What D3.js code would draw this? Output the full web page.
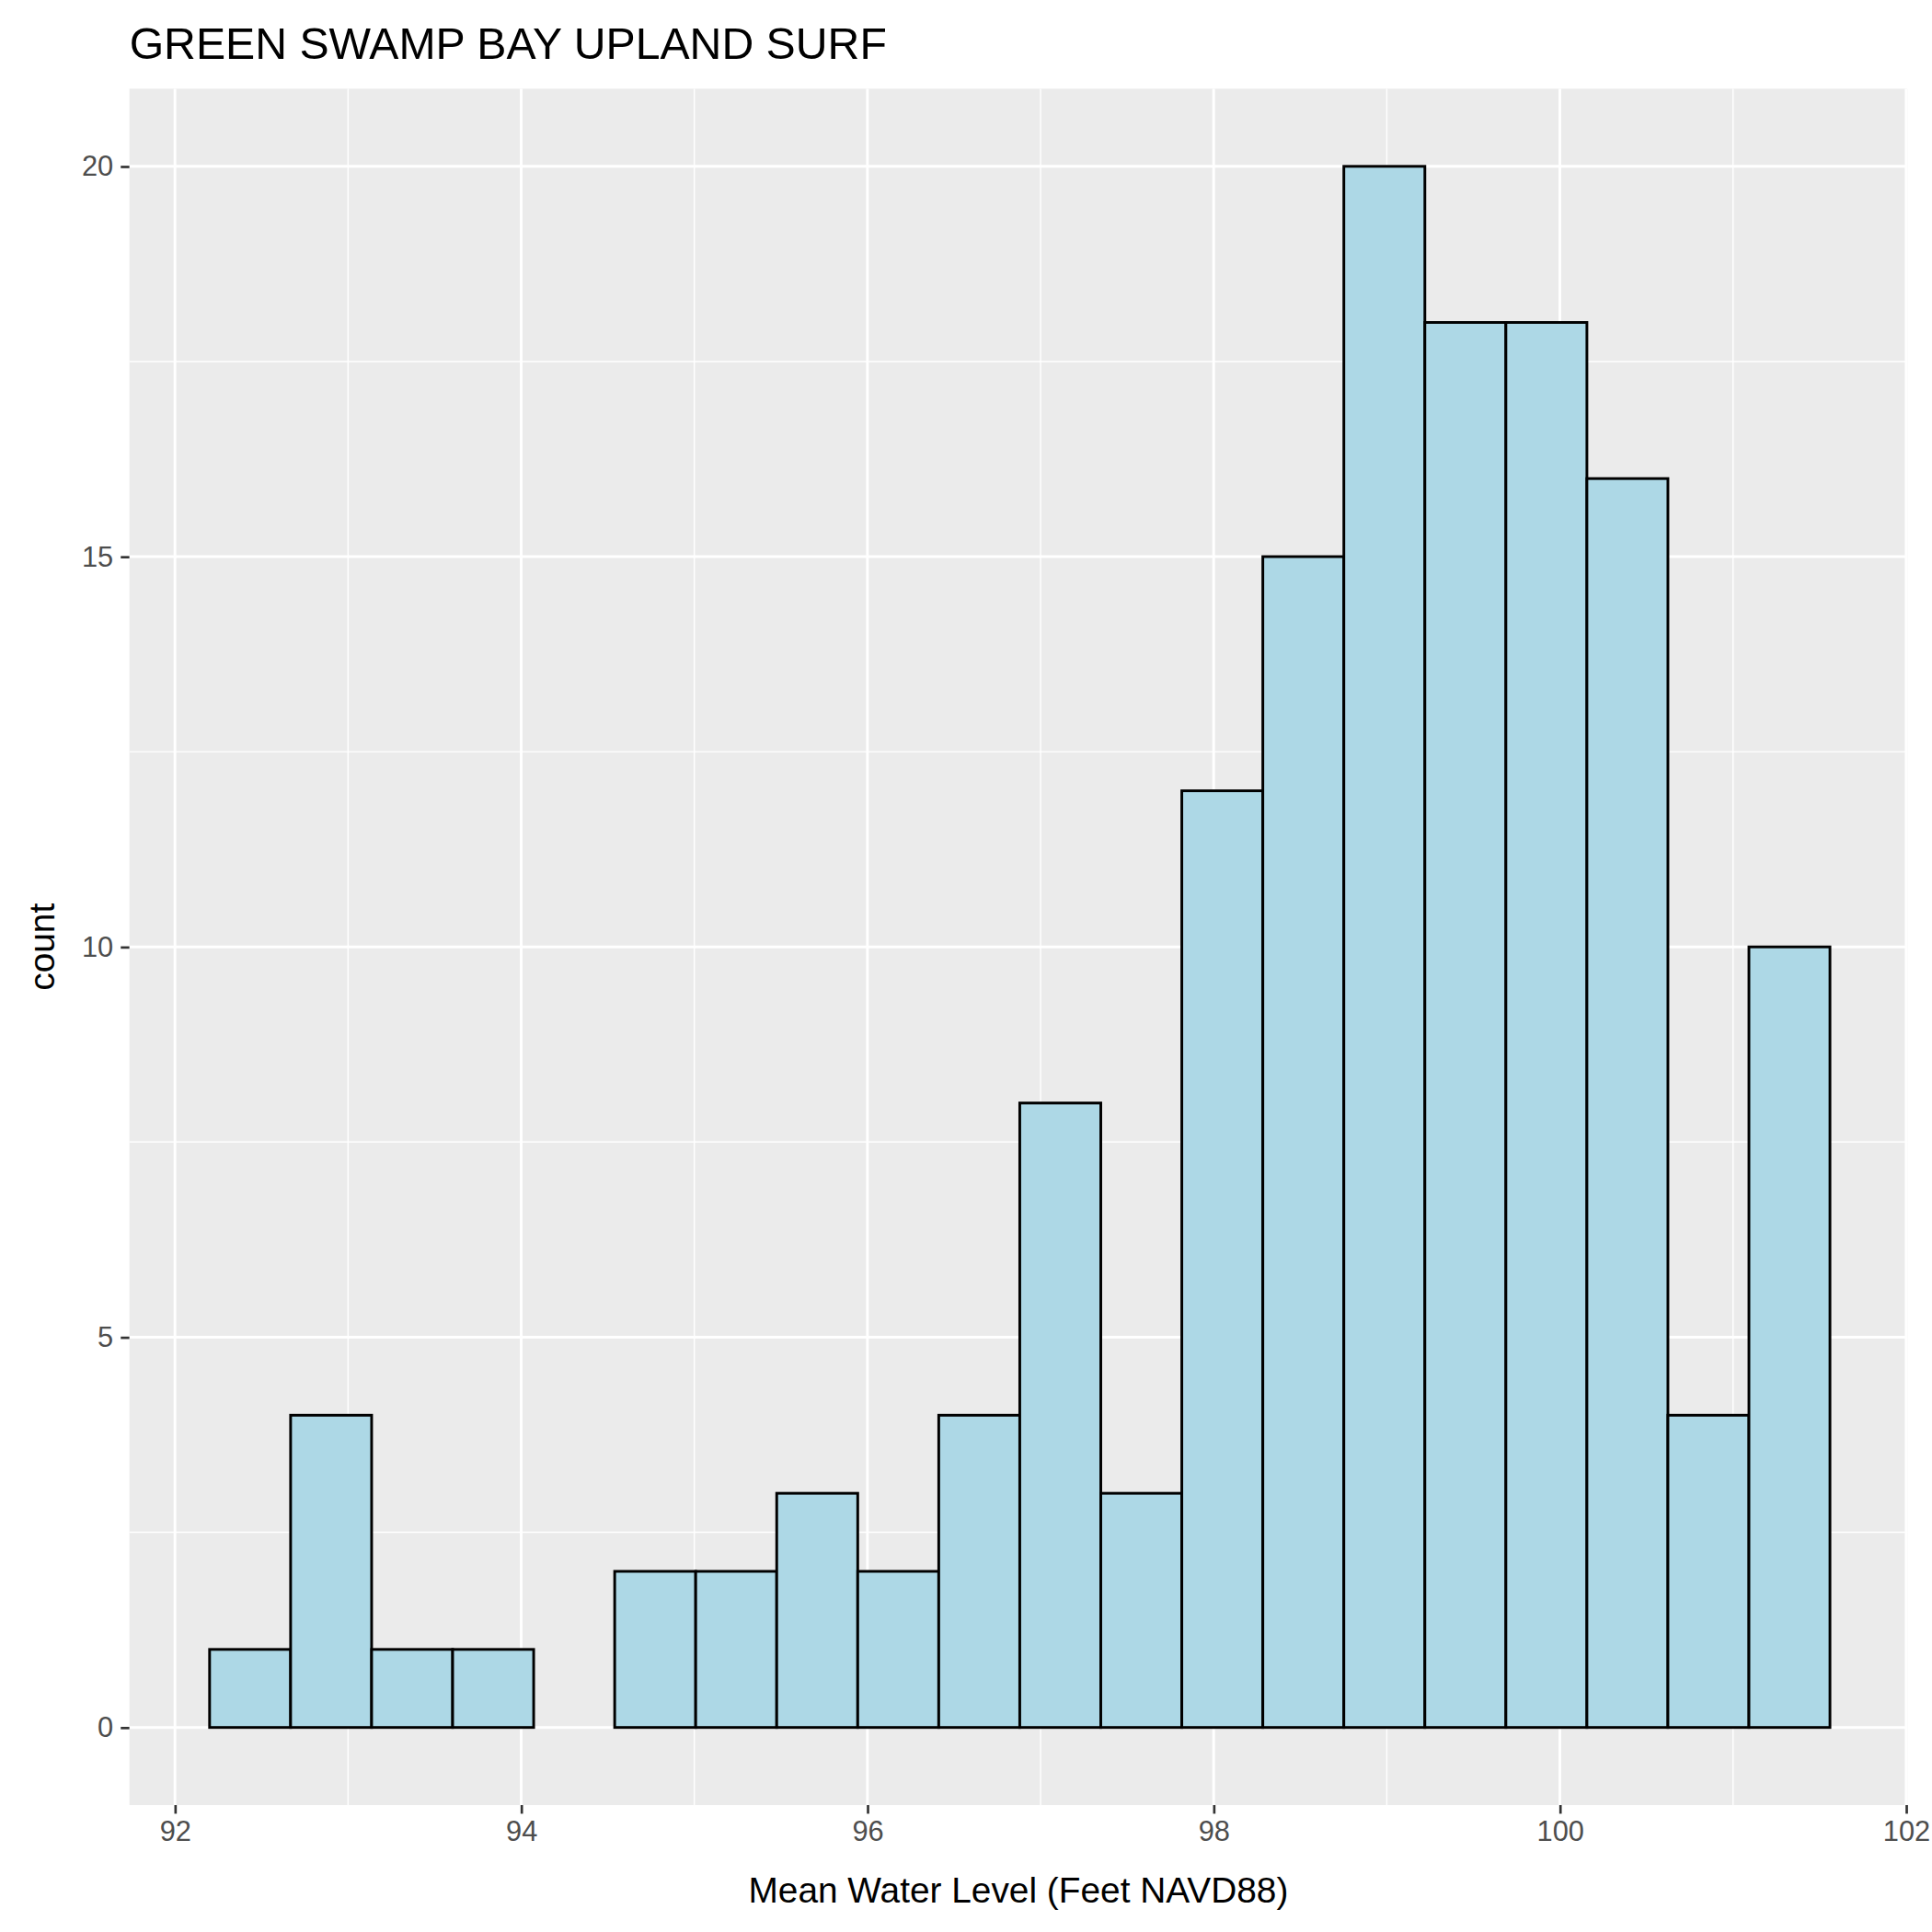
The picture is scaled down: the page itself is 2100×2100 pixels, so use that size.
<!DOCTYPE html>
<html><head><meta charset="utf-8">
<script src="https://cdn.jsdelivr.net/npm/d3@7"></script>
<style>body{margin:0;background:#fff}text{font-family:"Liberation Sans",Arial,sans-serif}</style>
</head><body>
<script>
// histogram counts, left to right
const counts = [1, 4, 1, 1, 0, 2, 2, 3, 2, 4, 8, 3, 12, 15, 20, 18, 18, 16, 4, 10];
const binStart = 92.2, binWidth = 0.468;
const xTicks = [92, 94, 96, 98, 100, 102];
const yTicks = [0, 5, 10, 15, 20];
const title = "GREEN SWAMP BAY UPLAND SURF";

const W = 1568, H = 1568;
const m = {l: 105, r: 1548, t: 72, b: 1465};
const svg = d3.select("body").append("svg")
  .attr("width", 2100).attr("height", 2100).attr("viewBox", `0 0 ${W} ${H}`);

const x = d3.scaleLinear().domain([92, 102]).range([142, 1547]);
const y = d3.scaleLinear().domain([0, 20]).range([1402, 135]);

svg.append("rect").attr("x", m.l).attr("y", m.t).attr("width", m.r - m.l).attr("height", m.b - m.t).attr("fill", "#ebebeb");

const g = svg.append("g");
const minorX = d3.range(93, 102, 2), minorY = [2.5, 7.5, 12.5, 17.5];
g.selectAll(".mx").data(minorX).enter().append("line")
  .attr("x1", d => x(d)).attr("x2", d => x(d)).attr("y1", m.t).attr("y2", m.b)
  .attr("stroke", "#fff").attr("stroke-width", 1.1);
g.selectAll(".my").data(minorY).enter().append("line")
  .attr("x1", m.l).attr("x2", m.r).attr("y1", d => y(d)).attr("y2", d => y(d))
  .attr("stroke", "#fff").attr("stroke-width", 1.1);
g.selectAll(".gx").data(xTicks).enter().append("line")
  .attr("x1", d => x(d)).attr("x2", d => x(d)).attr("y1", m.t).attr("y2", m.b)
  .attr("stroke", "#fff").attr("stroke-width", 2.2);
g.selectAll(".gy").data(yTicks).enter().append("line")
  .attr("x1", m.l).attr("x2", m.r).attr("y1", d => y(d)).attr("y2", d => y(d))
  .attr("stroke", "#fff").attr("stroke-width", 2.2);

svg.selectAll(".bar").data(counts).enter().append("rect")
  .attr("x", (d, i) => x(binStart + i * binWidth))
  .attr("width", x(binStart + binWidth) - x(binStart))
  .attr("y", d => y(d)).attr("height", d => y(0) - y(d))
  .attr("fill", "#add8e6").attr("stroke", "#000").attr("stroke-width", 2.2);

// axes
const xa = svg.append("g").attr("transform", `translate(0,${m.b})`)
  .call(d3.axisBottom(x).tickValues(xTicks).tickSize(7).tickPadding(6).tickFormat(d3.format("d")));
const ya = svg.append("g").attr("transform", `translate(${m.l},0)`)
  .call(d3.axisLeft(y).tickValues(yTicks).tickSize(7).tickPadding(6));
[xa, ya].forEach(a => {
  a.select(".domain").remove();
  a.selectAll("line").attr("stroke", "#333").attr("stroke-width", 2);
  a.selectAll("text").attr("fill", "#4d4d4d").style("font-size", "23px");
});

svg.append("text").attr("x", 105).attr("y", 48).style("font-size", "36px").text(title);
svg.append("text").attr("x", (m.l + m.r) / 2).attr("y", 1544).attr("text-anchor", "middle")
  .style("font-size", "29px").text("Mean Water Level (Feet NAVD88)");
svg.append("text").attr("transform", `translate(44,${(m.t + m.b) / 2}) rotate(-90)`)
  .attr("text-anchor", "middle").style("font-size", "29px").text("count");
</script>
</body></html>
